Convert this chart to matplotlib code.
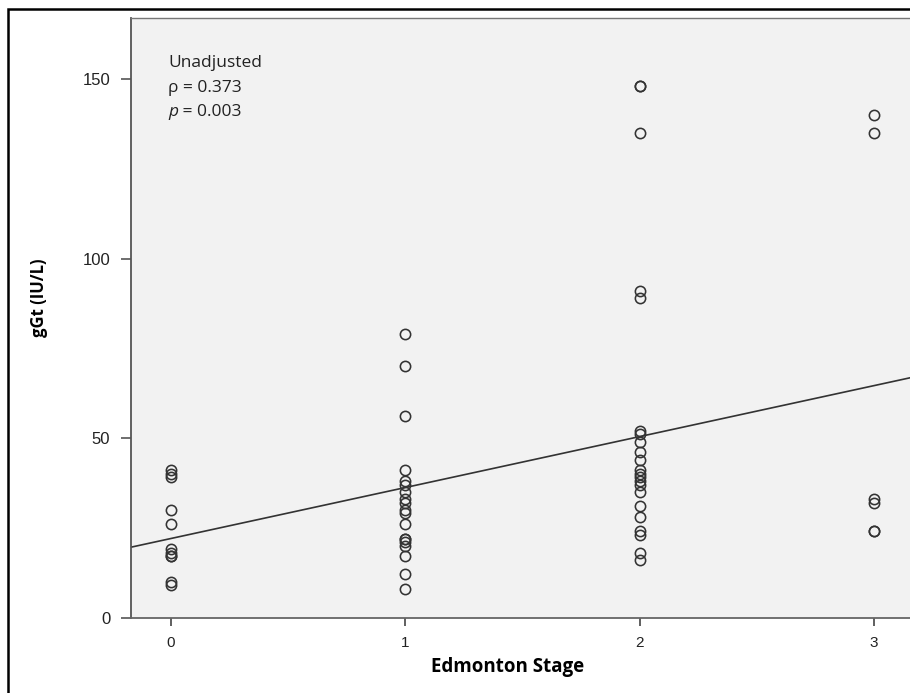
import matplotlib.pyplot as plt
from matplotlib.patches import Rectangle
import numpy as np

# gGt values, one list per Edmonton stage
stage0 = [41, 40, 39, 30, 26, 19, 18, 17, 17, 10, 9]
stage1 = [79, 70, 56, 41, 38, 37, 35, 33, 32, 30, 29, 26, 22, 22, 21, 20, 17, 12, 8]
stage2 = [148, 148, 135, 91, 89, 52, 51, 49, 46, 44, 41, 40, 39, 38, 37, 35, 31, 28, 24, 23, 18, 16]
stage3 = [140, 135, 33, 32, 24, 24]

stages = [0, 1, 2, 3]
groups = [stage0, stage1, stage2, stage3]

# fit line as drawn in the picture
fit_intercept = 22.0
fit_slope = 14.2

x = np.concatenate([[s] * len(g) for s, g in zip(stages, groups)])
y = np.concatenate(groups)

fig = plt.figure(figsize=(9.1, 6.93), dpi=100)
ax = fig.add_axes([131 / 910, 1 - 617.5 / 693, 1 - 131 / 910, (617.5 - 18) / 693])
ax.set_facecolor('#f2f2f2')

ax.plot(x, y, 'o', mfc='none', mec='#333333', ms=7.4, mew=1.15)

xl = np.array([-0.17, 3.16])
ax.plot(xl, fit_intercept + fit_slope * xl, color='#333333', lw=1.2)

ax.set_xlim(-0.17, 3.153)
ax.set_ylim(0, 167)
ax.set_xticks(stages)
ax.set_yticks([0, 50, 100, 150])

ax.spines['right'].set_visible(False)
ax.spines['left'].set_color('#555555')
ax.spines['bottom'].set_color('#666666')
ax.spines['top'].set_color('#777777')
ax.spines['left'].set_linewidth(1.3)
ax.spines['bottom'].set_linewidth(1.3)
ax.spines['top'].set_linewidth(1.0)

ax.tick_params(axis='y', length=7, width=1.2, color='#555555', labelsize=12,
               labelcolor='#222222', pad=8)
ax.tick_params(axis='x', length=6, width=1.2, color='#444444', labelsize=11,
               labelcolor='#222222', pad=7)
for lab in ax.get_xticklabels() + ax.get_yticklabels():
    lab.set_fontfamily('Liberation Sans')

ax.set_xlabel('Edmonton Stage', fontsize=13.5, fontweight='bold', family='Open Sans')
ax.xaxis.set_label_coords((508 - 131) / 779, -(657 - 617.5) / 599.5)
ax.set_ylabel('gGt (IU/L)', fontsize=12, fontweight='bold', family='Open Sans')
ax.yaxis.set_label_coords((48 - 131) / 779, (617.5 - 298) / 599.5)

# annotation block, top left
tx = 0.048
kw = dict(transform=ax.transAxes, va='top', ha='left', fontsize=12.5,
          family='Open Sans', color='#222222')
ax.text(tx, 0.938, 'Unadjusted', **kw)
ax.text(tx, 0.896, 'ρ = 0.373', **kw)
pt = ax.text(tx, 0.856, 'p', style='italic', **kw)
ax.annotate(' = 0.003', xy=(1, 0), xycoords=pt, va='bottom', ha='left',
            fontsize=12.5, family='Open Sans', color='#222222')

# outer frame of the original figure
fig.patches.append(Rectangle((8 / 910, -0.1), 1.2, 1.1 - 9 / 693,
                             transform=fig.transFigure, fill=False,
                             edgecolor='black', lw=1.8))

fig.savefig('out.png', dpi=100)
plt.close(fig)
